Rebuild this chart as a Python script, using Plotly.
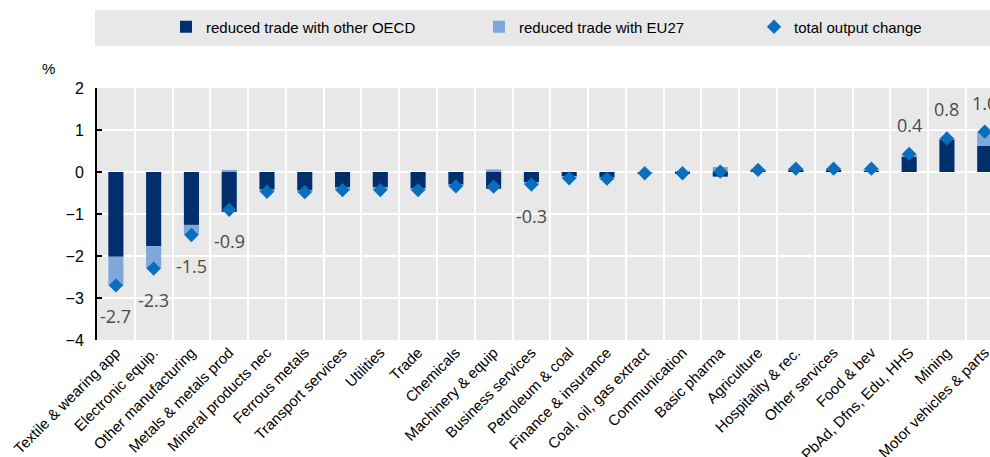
import plotly.graph_objects as go

categories = ["Textile & wearing app", "Electronic equip.", "Other manufacturing", "Metals & metals prod",
              "Mineral products nec", "Ferrous metals", "Transport services", "Utilities", "Trade",
              "Chemicals", "Machinery & equip", "Business services", "Petroleum & coal",
              "Finance & insurance", "Coal, oil, gas extract", "Communication", "Basic pharma",
              "Agriculture", "Hospitality & rec.", "Other services", "Food & bev",
              "PbAd, Dfns, Edu, HHS", "Mining", "Motor vehicles & parts"]

other_oecd = [-2.02, -1.77, -1.26, -0.95, -0.42, -0.44, -0.37, -0.36, -0.40, -0.30, -0.40, -0.24,
              -0.10, -0.13, -0.02, -0.04, -0.11, 0.04, 0.06, 0.05, 0.04, 0.36, 0.78, 0.62]
eu27 = [-0.68, -0.53, -0.24, 0.05, -0.05, -0.04, -0.07, -0.07, -0.04, -0.05, 0.06, -0.06,
        -0.05, -0.03, -0.01, 0.01, 0.12, 0.01, 0.02, 0.03, 0.04, 0.07, 0.02, 0.33]
total_change = [-2.7, -2.3, -1.5, -0.9, -0.47, -0.48, -0.43, -0.43, -0.43, -0.34, -0.35, -0.30,
                -0.15, -0.16, -0.03, -0.03, 0.01, 0.05, 0.08, 0.08, 0.08, 0.43, 0.8, 0.96]
labelled = ["Textile & wearing app", "Electronic equip.", "Other manufacturing", "Metals & metals prod",
            "Business services", "PbAd, Dfns, Edu, HHS", "Mining", "Motor vehicles & parts"]

y_range = [-4, 2]
y_ticks = [2, 1, 0, -1, -2, -3, -4]

DARK = "#002F6C"
LIGHT = "#7FA7DA"
DIAMOND = "#0A6EBD"
BASE_FONT = "Liberation Sans, Arial, sans-serif"

W, H = 990, 457
ML, MT = 97, 88
PLOT_BOTTOM = 340
MB = H - PLOT_BOTTOM
PW, PH = W - ML, H - MT - MB

fig = go.Figure()
fig.add_trace(go.Bar(x=categories, y=other_oecd, name="reduced trade with other OECD",
                     marker=dict(color=DARK, line=dict(width=0)), legend="legend"))
fig.add_trace(go.Bar(x=categories, y=eu27, name="reduced trade with EU27",
                     marker=dict(color=LIGHT, line=dict(width=0)), legend="legend2"))
fig.add_trace(go.Scatter(x=categories, y=total_change, name="total output change", mode="markers",
                         marker=dict(symbol="diamond", size=11, color=DIAMOND, line=dict(width=0)),
                         legend="legend3"))

for c, v in zip(categories, total_change):
    if c in labelled:
        fig.add_annotation(x=c, y=v, text=f"{v:.1f}", showarrow=False,
                           xanchor="center", yanchor="middle",
                           yshift=-31 if v < 0 else 29,
                           font=dict(family="Open Sans, sans-serif", size=18, color="#4a4a4a"))

# plot width 893 px, category width ~37.77 px -> last category partly cut at the right edge
x_range = [-0.5, 23.14]
zero_pos = (0 - y_range[0]) / (y_range[1] - y_range[0])

leg_common = dict(orientation="h", bgcolor="rgba(0,0,0,0)", yanchor="middle", y=1 - 27 / H,
                  xanchor="left", xref="container", yref="container",
                  font=dict(family=BASE_FONT, size=15, color="#000"))

fig.update_layout(
    width=W, height=H,
    margin=dict(l=ML, r=0, t=MT, b=MB, autoexpand=False),
    paper_bgcolor="white", plot_bgcolor="#E8E8E8",
    barmode="relative", bargap=0.6,
    showlegend=True,
    font=dict(family=BASE_FONT, color="#000"),
    legend=dict(x=166 / W, **leg_common),
    legend2=dict(x=479 / W, **leg_common),
    legend3=dict(x=754 / W, **leg_common),
    xaxis=dict(type="category", categoryorder="array", categoryarray=categories, range=x_range,
               tickson="boundaries", ticks="", showgrid=True, gridcolor="white", gridwidth=2,
               showline=False, zeroline=False, tickangle=-45, automargin=False,
               tickfont=dict(family=BASE_FONT, size=15, color="#000")),
    xaxis2=dict(type="category", categoryorder="array", categoryarray=categories, range=x_range,
                overlaying="x", anchor="free", position=zero_pos, side="bottom", automargin=False,
                showline=True, linecolor="black", linewidth=2, ticks="inside", tickson="boundaries",
                ticklen=5, tickwidth=2, tickcolor="black", showticklabels=False, showgrid=False,
                zeroline=False, matches="x"),
    yaxis=dict(range=y_range, tickvals=y_ticks, showgrid=True, gridcolor="white", gridwidth=2,
               zeroline=False, showline=True, linecolor="black", linewidth=2, automargin=False,
               ticks="inside", ticklen=5, tickwidth=2, tickcolor="black",
               tickfont=dict(family=BASE_FONT, size=16, color="#000"), ticklabelstandoff=8,
               domain=[0, 1]),
)

# legend background band
fig.add_shape(type="rect", xref="paper", yref="paper", x0=(95 - ML) / PW, x1=1.0,
              y0=(PLOT_BOTTOM - 46) / PH, y1=(PLOT_BOTTOM - 10) / PH, fillcolor="#E8E8E8",
              line=dict(width=0), layer="below")

fig.add_annotation(xref="paper", yref="paper", x=(48 - ML) / PW, y=(PLOT_BOTTOM - 68) / PH, text="%",
                   xanchor="center", yanchor="middle",
                   showarrow=False, font=dict(family=BASE_FONT, size=15, color="#000"))

fig.write_html("out.html",
               config={"displayModeBar": False},
               post_script="document.body.style.margin='0px';"
                           "document.documentElement.style.overflow='hidden';"
                           "document.body.style.overflow='hidden';")
